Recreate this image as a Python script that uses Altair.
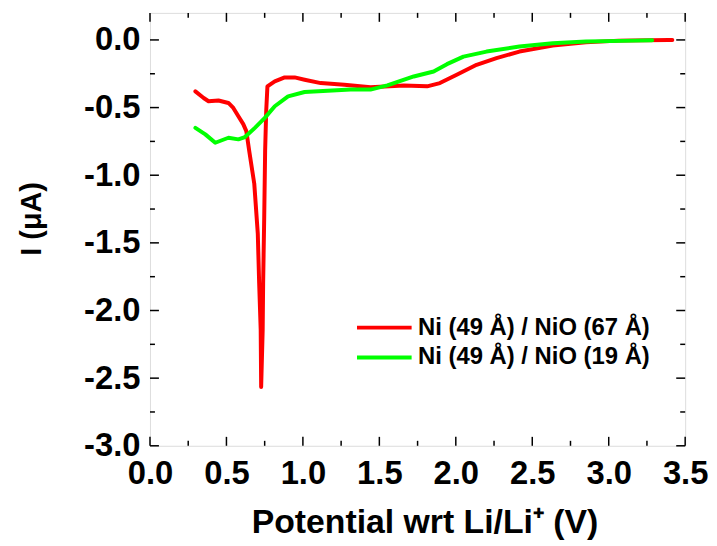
import altair as alt
import pandas as pd

# ---- data ----
series_names = ["Ni (49 Å) / NiO (67 Å)", "Ni (49 Å) / NiO (19 Å)"]
series_colors = ["#FF0000", "#00FF00"]

red_x = [0.297, 0.351, 0.383, 0.448, 0.513, 0.545, 0.578, 0.610, 0.630, 0.649,
         0.682, 0.705, 0.714, 0.724, 0.727, 0.737, 0.740, 0.747, 0.753, 0.760,
         0.768, 0.816, 0.881, 0.946, 1.011, 1.117, 1.271, 1.442, 1.660, 1.812,
         1.896, 2.006, 2.136, 2.266, 2.416, 2.634, 2.851, 3.065, 3.390, 3.416]
red_y = [-0.380, -0.429, -0.453, -0.448, -0.466, -0.503, -0.564, -0.622, -0.674, -0.821,
         -1.063, -1.431, -1.798, -2.143, -2.565, -2.143, -1.798, -1.313, -0.821, -0.527,
         -0.343, -0.306, -0.277, -0.277, -0.294, -0.319, -0.331, -0.350, -0.336, -0.343,
         -0.319, -0.257, -0.184, -0.135, -0.086, -0.042, -0.018, -0.005, 0.0, 0.0]

green_x = [0.297, 0.362, 0.427, 0.513, 0.578, 0.621, 0.686, 0.751, 0.816, 0.903,
           1.011, 1.162, 1.312, 1.442, 1.552, 1.725, 1.855, 1.942, 2.050, 2.201,
           2.416, 2.634, 2.851, 3.175, 3.284]
green_y = [-0.650, -0.698, -0.760, -0.723, -0.735, -0.718, -0.650, -0.576, -0.490, -0.417,
           -0.385, -0.375, -0.367, -0.367, -0.336, -0.270, -0.233, -0.179, -0.123, -0.086,
           -0.049, -0.025, -0.012, -0.005, -0.003]

x_major = [0.0, 0.5, 1.0, 1.5, 2.0, 2.5, 3.0, 3.5]
x_minor = [0.25, 0.75, 1.25, 1.75, 2.25, 2.75, 3.25]
y_major = [0.0, -0.5, -1.0, -1.5, -2.0, -2.5, -3.0]
y_minor = [-0.25, -0.75, -1.25, -1.75, -2.25, -2.75]

x_title = "Potential wrt Li/Li⁺ (V)"
y_title = "I (μA)"

X_DOMAIN = [0.0, 3.5]
Y_DOMAIN = [-3.0, 0.2]
W, H = 539, 436

rows = []
for name, xs, ys in [(series_names[0], red_x, red_y), (series_names[1], green_x, green_y)]:
    for i, (xv, yv) in enumerate(zip(xs, ys)):
        rows.append({"series": name, "V": xv, "I": yv, "idx": i})
df = pd.DataFrame(rows)

# inward tick marks on all four sides (lengths in pixels -> data units)
MAJ_PX, MIN_PX = 9, 5
px_x = (X_DOMAIN[1] - X_DOMAIN[0]) / W
px_y = (Y_DOMAIN[1] - Y_DOMAIN[0]) / H
trows = []
for vals, L in [(x_major, MAJ_PX), (x_minor, MIN_PX)]:
    for v in vals:
        trows.append({"V": v, "V2": v, "I": Y_DOMAIN[0], "I2": Y_DOMAIN[0] + L * px_y})
        trows.append({"V": v, "V2": v, "I": Y_DOMAIN[1], "I2": Y_DOMAIN[1] - L * px_y})
for vals, L in [(y_major, MAJ_PX), (y_minor, MIN_PX)]:
    for v in vals:
        trows.append({"V": X_DOMAIN[0], "V2": X_DOMAIN[0] + L * px_x, "I": v, "I2": v})
        trows.append({"V": X_DOMAIN[1], "V2": X_DOMAIN[1] - L * px_x, "I": v, "I2": v})
tdf = pd.DataFrame(trows)

FONT = "Liberation Sans"
xscale = alt.Scale(domain=X_DOMAIN, nice=False, zero=False)
yscale = alt.Scale(domain=Y_DOMAIN, nice=False, zero=False)
LABEL_EXPR = "replace(format(datum.value, '.1f'), '\u2212', '-')"

x_axis = alt.Axis(orient="bottom", values=x_major, labelExpr=LABEL_EXPR,
                  ticks=False, domain=False, grid=False,
                  labelFont=FONT, labelFontSize=33, labelFontWeight="bold",
                  labelColor="black", labelPadding=12, labelOverlap=False,
                  labelFlush=False, labelBound=False,
                  title=x_title, titleFont=FONT, titleFontSize=34,
                  titleFontWeight="bold", titleColor="black", titlePadding=15,
                  titleX=W / 2 + 7)
y_axis = alt.Axis(orient="left", values=y_major, labelExpr=LABEL_EXPR,
                  ticks=False, domain=False, grid=False,
                  labelFont=FONT, labelFontSize=33, labelFontWeight="bold",
                  labelColor="black", labelPadding=10, labelOverlap=False,
                  labelFlush=False, labelBound=False,
                  title=y_title, titleFont=FONT, titleFontSize=29,
                  titleFontWeight="bold", titleColor="black", titlePadding=37,
                  titleY=H / 2 - 11)

# legend line drawn as a custom path twice as wide as the nominal symbol box
SYM_LEN = 55
sym_size = (SYM_LEN / 2) ** 2

main = alt.Chart(df).mark_line(strokeWidth=4, strokeJoin="round", strokeCap="round").encode(
    x=alt.X("V:Q", scale=xscale, axis=x_axis),
    y=alt.Y("I:Q", scale=yscale, axis=y_axis),
    color=alt.Color("series:N",
                    scale=alt.Scale(domain=series_names, range=series_colors),
                    legend=alt.Legend(title=None, orient="none", legendX=220, legendY=301,
                                      symbolType="M-2,0L2,0", symbolSize=sym_size,
                                      symbolStrokeWidth=4, symbolFillColor="transparent",
                                      labelFont=FONT,
                                      labelFontSize=24, labelFontWeight="bold",
                                      labelColor="black", rowPadding=2,
                                      labelOffset=18, padding=0, labelLimit=400)),
    order="idx:Q",
)

ticks = alt.Chart(tdf).mark_rule(color="black", strokeWidth=1.5).encode(
    x=alt.X("V:Q", scale=xscale, axis=x_axis),
    x2="V2:Q",
    y=alt.Y("I:Q", scale=yscale, axis=y_axis),
    y2="I2:Q",
)

chart = alt.layer(main, ticks).properties(
    width=W, height=H,
    autosize=alt.AutoSizeParams(type="none"),
    padding={"left": 143, "top": 3, "right": 24, "bottom": 98},
).configure_view(stroke="black", strokeWidth=2).configure(background="white")

chart.save("out.html", embed_options={"renderer": "svg", "actions": False})
